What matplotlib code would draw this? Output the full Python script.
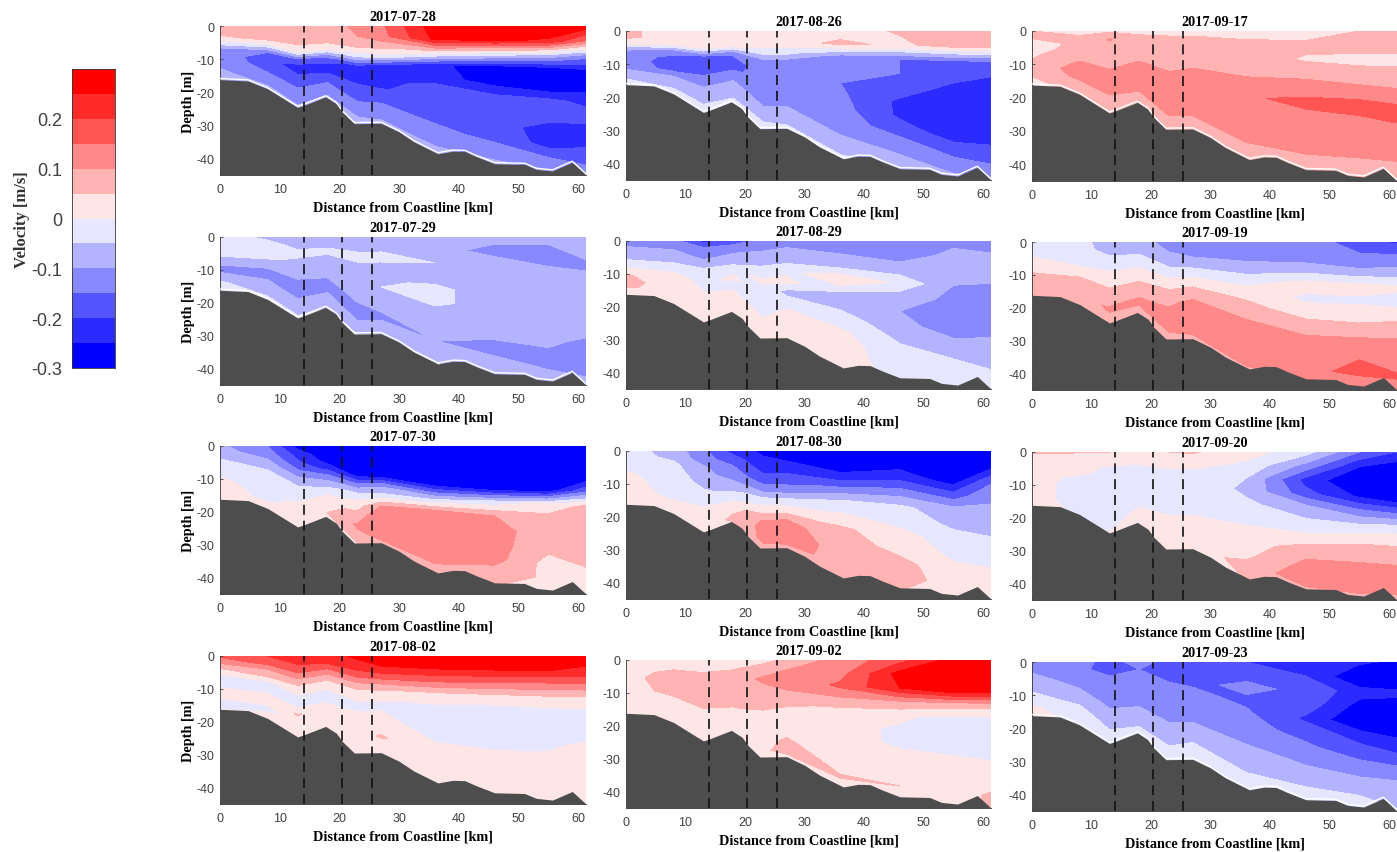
import numpy as np
import matplotlib
matplotlib.use("Agg")
import matplotlib.pyplot as plt
from matplotlib.colors import ListedColormap, BoundaryNorm

plt.rcParams['axes.unicode_minus'] = False
plt.rcParams['font.family'] = ['Liberation Sans', 'DejaVu Sans']

# -- grid: stations along the transect, fractional depth (0 = surface, 1 = bottom)
stations = [0, 8, 13, 18, 23, 27, 36, 46, 55, 61.3]
grid_depth = [17, 20, 25.6, 22.5, 30.5, 30.4, 39.3, 42.6, 44.8, 46]
sigma = [0, .1, .2, .3, .4, .5, .6, .7, .8, .9, 1]

bathy_x = [0, 4.7, 8, 13, 14, 17.7, 19.5, 20.5, 22.5, 27, 30, 32.5, 36.5, 39, 41, 43, 46, 51, 53, 55.7, 59, 61.3]
bathy_z = [-16.2, -16.6, -19, -24.6, -24, -21.4, -23.5, -26, -29.5, -29.4, -32, -35, -38.6, -37.8, -37.9, -39.5, -41.6, -41.8, -43.3, -43.8, -41.2, -45]
front_km = [14, 20.4, 25.4]

levels = [-30, -25, -20, -15, -10, -5, 0, 5, 10, 15, 20, 25, 30]
band_colors = ['#0000FF', '#2B2BFF', '#5555FF', '#8888FF', '#B3B3FF', '#E6E6FF',
               '#FFE6E6', '#FFB3B3', '#FF8888', '#FF5555', '#FF2B2B', '#FF0000']
cbar_ticks = [-0.3, -0.2, -0.1, 0, 0.1, 0.2]

# -- velocity in cm/s, one list per station, surface to bottom
v_0728 = [[7, 7, 4, -2, -11, -12, -12, -11, -9, -8, -7],
          [8, 8, 6, -3, -15, -18, -17, -15, -13, -10, -7],
          [8, 8, 6, 1, -17, -23, -19, -16, -13, -11, -8],
          [8, 8, 6, 2, -13, -20, -21, -18, -13, -11, -8],
          [11, 10, 6, -4, -22, -23, -19, -16, -14, -10, -8],
          [14, 13, 7, -2, -24, -24, -21, -17, -14, -11, -8],
          [28, 26, 3, -23, -23, -16, -15, -16, -14, -11, -7],
          [32, 26, -3, -31, -27, -19, -17, -18, -16, -12, -8],
          [32, 24, -7, -31, -31, -19, -18, -22, -22, -14, -9],
          [28, 14, -13, -27, -27, -21, -18, -23, -20, -16, -9]]
v_0729 = [[-3, -3, -3, -3.5, -7, -10, -11, -8, -4.5, -3, -2],
          [-6, -4, -3, -4, -7, -11, -11, -9, -7, -5, -3],
          [-7, -6, -4, -6, -9, -10, -11, -11, -8, -6, -3],
          [-7, -6, -4, -7, -9, -9, -11, -11, -9, -7, -4],
          [-8, -6, -4, -6, -7, -8, -9, -11, -11, -8, -4],
          [-7, -6, -4, -6, -6, -5, -6, -9, -11, -8, -4],
          [-7, -8, -5, -7, -4, -4, -7, -9, -10, -8, -4],
          [-8, -12, -7, -7, -7, -7, -8, -9.5, -11, -9, -5],
          [-9, -11, -10, -7, -7, -7, -7, -9, -11, -10, -6],
          [-10, -9, -11, -7, -8, -7, -8, -11, -12, -11, -7]]
v_0730 = [[-9, -8, -6, -3, -3, -2, 1, 2, 2, 2, 2],
          [-15, -13, -10, -7, -4, -4, -3, -2, -1, 1, 2],
          [-27, -22, -19, -14, -8, -4, -2, 1, 2, 2, 2],
          [-31, -29, -27, -22, -14, -8, -3, 2, 3, 5, 2],
          [-31, -31, -31, -26, -12, -2, 3, 7, 11, 7, 4],
          [-31, -31, -31, -27, -11, -3, 10, 15, 14, 12, 7],
          [-31, -31, -31, -27, -8, 10.5, 13, 13, 12, 10.5, 5],
          [-31, -31, -31, -30, -3, 10, 12, 12, 12, 8, 5],
          [-31, -31, -31, -28, 2, 7, 7, 6, 3, 4, 3],
          [-31, -31, -31, -16, 6, 7, 7, 6, 5, 5, 3]]
v_0802 = [[16, 12, 6, 1, -2, -2, 1, 1, -1, -1, 1],
          [20, 17, 10, 6, -1, -2, 1, 1, -1, 1, 1],
          [23, 20, 15, 8, 2, -1, -1, 5.5, 1, 1, 1],
          [23, 20, 13, 6, 2, -2, -1, 2, 2, 2, 1],
          [26, 23, 16, 7, 1, -1, 1, 2, 3, 3, 1],
          [28, 25, 18, 8, 1, -1, 1, 2, 5.5, 3, 1],
          [29, 25, 15, 3, -1, -3, -2, 1, 1, 1, 1],
          [32, 25, 14, 2, -2, -3, -3, 1, 1, 1, 1],
          [28, 25, 13, 2, -2, -3, -1, 1, 1, 1, 1],
          [27, 24, 13, 1, -1, -2, 1, 1, 1, 1, 1]]
v_0826 = [[6, 6, 3, -8, -13, -14, -14, -9, -6, -4, -3],
          [3, 3, 2, -12, -16, -16, -15.5, -9, -7, -4, -3],
          [3, 3, 1, -15.5, -17, -16, -12, -9, -7, -4, -3],
          [3, 3, 1, -14, -17, -16, -12, -9, -8, -5, -3],
          [3, 3, -2, -12, -13, -13, -12, -11, -9, -5, -3],
          [3, 3, -2, -12, -13, -14, -13, -11, -9, -6, -3],
          [3, 6, -13, -13, -15, -14, -13, -13, -10, -7, -3],
          [5.5, 4, -15, -15, -17, -21, -21, -17, -13, -9, -5],
          [7, 7, -15, -18, -22, -24, -24, -23, -17, -13, -8],
          [7, 7, -15, -20, -22, -23, -24, -22, -18, -14, -8]]
v_0829 = [[-12, -10, -8, -6, -3, 1, 5.5, 7, 6, 3, 2],
          [-13, -11, -8, -6, -3, 1, 2, 2, 2, 2, 2],
          [-22, -13, -11, -6, -2, -1, 0, 2, 2, 2, 2],
          [-18, -12, -9, -6, -1, 1, -2, 1, 2, 2, 2],
          [-13, -10, -7, -3, 1, -3, -5, -2, 1, 2, 2],
          [-12, -9, -6, -2, 2, -6, -4, 1, 2, 2, 2],
          [-10, -10, -6, 5, -6, -6, -3, 1, 2, 2, 2],
          [-10, -12, -8, -1, -8, -10, -8, -6, -3, -2, -1],
          [-11, -9, -8, -10, -11, -13, -13, -8, -5, -3.5, -3],
          [-14, -9, -6, -11, -13, -12, -12, -7, -6, -4, -3]]
v_0830 = [[-3, -3, -3, -2, 1, 2, 2, 2, 2, 2, 2],
          [-7, -6, -4, -3, -3, -3, -2, -1, 1, 2, 2],
          [-14, -13, -9, -8, -6, -4, -2, 1, 2, 2, 2],
          [-22, -18, -15, -13, -10, -7, -3, 1, 4, 6, 4],
          [-26, -24, -21, -17, -11, -2, 3, 10.5, 12, 11, 5],
          [-27, -25, -21, -17, -12, -3, 3, 11, 13, 12, 6],
          [-30, -29, -23, -13, -3, 1, 6, 8, 8, 8, 4],
          [-30, -27, -21, -12, -4, -2, 2, 3, 7, 8, 5],
          [-33, -34, -28, -18, -8, -6, -3, -1, 1, 2, 2],
          [-26, -27, -16, -11, -9, -7, -4, -3, 1, 2, 2]]
v_0902 = [[0.5, 1, 2, 3, 2, 2, 2, 2, 2, 1, 1],
          [2, 3, 7, 8, 8, 7, 3, 2, 2, 2, 2],
          [3, 4, 6, 8, 8, 8, 4, 2, 2, 2, 2],
          [3, 4, 7, 7, 7, 7, 6, 3, 2, 2, 2],
          [3, 8, 11, 8, 7, 5, 2, 2, 2, 4, 2],
          [6, 10, 11, 10, 7, 4, 2, 2, 6, 7, 2],
          [12, 13, 16, 9, 3, 2, 2, 2, 2, 5.5, 2],
          [18, 27, 25, 9, 1, -1, -1, 2, 2, 5, 2],
          [27, 32, 32, 8, -2, -3, -1, 1, 2, 2, 2],
          [31, 33, 28, 7, -2, -2, -2, 1, 2, 6, 6]]
v_0917 = [[5, 6, 3, 3, 4, 5, 7, 6, 5, 3, 2],
          [3, 6, 6, 7, 9, 11, 12, 11, 8, 7, 4],
          [4, 10.5, 7, 8, 9, 11, 12, 12, 8, 7, 4],
          [4, 6, 7, 8, 10, 11, 12, 12, 10, 7, 4],
          [4, 6, 7, 8, 10, 12, 13, 12, 11, 8, 5],
          [4, 6, 7, 8, 11, 12, 12, 12, 11, 8, 5],
          [3, 6, 7, 9, 11, 14.5, 13, 13, 12, 8, 5],
          [3, 6, 4.5, 8, 13, 16, 14, 13, 12, 9, 6],
          [5, 6, 4, 7, 12, 17, 14, 13, 11, 9, 6],
          [5, 6, 4, 7, 11, 16, 15, 13, 11, 9, 6]]
v_0919 = [[-3, -3, -2, 1, 3, 4, 6, 7, 7, 6, 5],
          [-3, -3, -3, -2, 1, 4, 7, 7, 7, 6, 5],
          [-8, -7, -4, -2, 2, 4, 6, 8, 11, 8, 5],
          [-8, -7, -4, -2, 2, 4, 7, 9, 11, 9, 6],
          [-12, -10, -7, -3, 2, 6, 9, 11, 12, 10, 6],
          [-12, -12, -8, -3, 3, 7, 11, 12, 12, 11, 7],
          [-12, -12, -8, -2, 3, 7, 10, 12, 13, 13, 8],
          [-12, -13, -7, 2, -1, 2, 8, 11, 14, 14.5, 9],
          [-18, -14, -9, 2, -1, 3, 7, 13, 15, 15.5, 9],
          [-21, -14, -8, 1, -2, 4, 8, 13, 14, 15.5, 8]]
v_0920 = [[6, 2, 2, 2, 2, 2, 2, 2, 2, 2, 1],
          [5.5, 2, 2, 1, -1, -2, -2, -2, -2, -1, -1],
          [5, 2, -1, -2, -2, -2, -2, -2, -2, -1, 1],
          [4, 2, -1, -2, -2, -2, -2, -1, 1, 2, 2],
          [5, 2, -1, -2, -2, -2, -1, 2, 2, 2, 2],
          [5.5, 2, -1, -2, -2, -2, -1, 2, 2, 2, 2],
          [2, -1, -5, -6, -4, -2, 1, 2, 4, 7, 5],
          [-3, -12, -22, -18, -8, -4, 1, 8, 11, 13, 8],
          [-15, -25, -31, -26, -14, -4, 4, 8, 12, 13, 8],
          [-20, -28, -31, -31, -16, -3, 4, 8, 12, 12, 7]]
v_0923 = [[-11, -11, -10, -9, -7, -5.5, -4, -3, 1, 2, 2],
          [-14, -14, -11, -11, -10, -8, -6, -4, -3, -2, -1],
          [-16, -17, -14, -12, -11, -11, -9, -7, -5, -3, -2],
          [-14, -15, -13, -12, -11, -11, -10, -9, -7, -4, -2],
          [-16, -16, -15, -13, -12, -11, -10, -8, -6, -3, -2],
          [-17, -17, -16, -14, -12, -11, -10, -8, -5, -4, -2],
          [-20, -16, -14, -16, -14, -13, -11, -8, -6, -4, -3],
          [-21, -20, -16, -17, -21, -17, -14, -11, -8, -4.5, -3],
          [-24, -31, -23, -27, -31, -22, -18, -13, -9, -5, -3],
          [-26, -30, -24, -27, -30, -25, -20, -14, -9, -7, -4]]

W, H = 1397, 853


def add_panel(fig, rect, date, vel, gap=False):
    """rect is (left, top, right, bottom) in pixels of the image."""
    l, t, r, b = rect
    ax = fig.add_axes([l / W, 1 - b / H, (r - l) / W, (b - t) / H])
    X, S = np.meshgrid(stations, sigma)
    Z = -S * np.array(grid_depth)
    V = np.clip(np.array(vel, dtype=float).T, -29.9, 29.9)
    ax.contourf(X, Z, V, levels=levels, cmap=cmap, norm=norm)
    ax.fill_between(bathy_x, bathy_z, -46, color='#4D4D4D', lw=0, zorder=3)
    if gap:
        ax.plot(bathy_x, np.array(bathy_z) + 0.35, color='white', lw=1.0, zorder=3)
    for km in front_km:
        ax.plot([km, km], [-45, 0], color='#111111', lw=1.2, dashes=(6, 3.5), zorder=4)
    ax.set_xlim(0, 61.3)
    ax.set_ylim(-45, 0)
    ax.set_xticks([0, 10, 20, 30, 40, 50, 60])
    ax.set_yticks([0, -10, -20, -30, -40])
    ax.tick_params(direction='in', length=2, width=0.6, labelsize=9,
                   colors='#404040', pad=4)
    ax.tick_params(axis='x', pad=6)
    for side in ('top', 'right'):
        ax.spines[side].set_visible(False)
    for side in ('left', 'bottom'):
        ax.spines[side].set_linewidth(0.6)
        ax.spines[side].set_color('#333333')
    ax.set_title(date, fontsize=10.3, fontweight='bold', family='Liberation Serif', pad=4)
    ax.set_xlabel('Distance from Coastline [km]', fontsize=10.3, fontweight='bold',
                  family='Liberation Serif', labelpad=3.5)
    ax.set_ylabel('Depth [m]', fontsize=10.3, fontweight='bold',
                  family='Liberation Serif', labelpad=1)
    return ax


cmap = ListedColormap(band_colors)
norm = BoundaryNorm(levels, cmap.N)

fig = plt.figure(figsize=(W / 100, H / 100), dpi=100)

# -- left column
add_panel(fig, (220, 27, 586, 176), '2017-07-28', v_0728, gap=True)
add_panel(fig, (220, 238, 586, 386), '2017-07-29', v_0729, gap=True)
add_panel(fig, (220, 447, 586, 595), '2017-07-30', v_0730)
add_panel(fig, (220, 657, 586, 805), '2017-08-02', v_0802)

# -- middle column
mid = [add_panel(fig, (626, 32, 991, 181), '2017-08-26', v_0826, gap=True),
       add_panel(fig, (626, 242, 991, 390), '2017-08-29', v_0829),
       add_panel(fig, (626, 452, 991, 600), '2017-08-30', v_0830),
       add_panel(fig, (626, 661, 991, 809), '2017-09-02', v_0902)]

# -- right column
right = [add_panel(fig, (1032, 32, 1397, 182), '2017-09-17', v_0917, gap=True),
         add_panel(fig, (1032, 243, 1397, 391), '2017-09-19', v_0919),
         add_panel(fig, (1032, 453, 1397, 601), '2017-09-20', v_0920),
         add_panel(fig, (1032, 663, 1397, 812), '2017-09-23', v_0923, gap=True)]

for ax in mid + right:
    ax.set_ylabel('')

# -- colour bar
cax = fig.add_axes([72 / W, 1 - 369 / H, 43 / W, 299 / H])
for low, high, c in zip(levels[:-1], levels[1:], band_colors):
    cax.barh(low / 100, 1, height=(high - low) / 100, align='edge', color=c)
cax.set_xlim(0, 1)
cax.set_ylim(-0.3, 0.3)
cax.set_xticks([])
cax.set_yticks(cbar_ticks)
cax.set_yticklabels(['-0.3', '-0.2', '-0.1', '0', '0.1', '0.2'])
cax.tick_params(length=0, labelsize=13, colors='#404040', pad=7)
for s in cax.spines.values():
    s.set_linewidth(0.6)
    s.set_color('#333333')
cax.set_ylabel('Velocity [m/s]', fontsize=12, fontweight='bold',
               family='Liberation Serif', color='#333333', labelpad=1)

fig.savefig('out.png', dpi=100)
